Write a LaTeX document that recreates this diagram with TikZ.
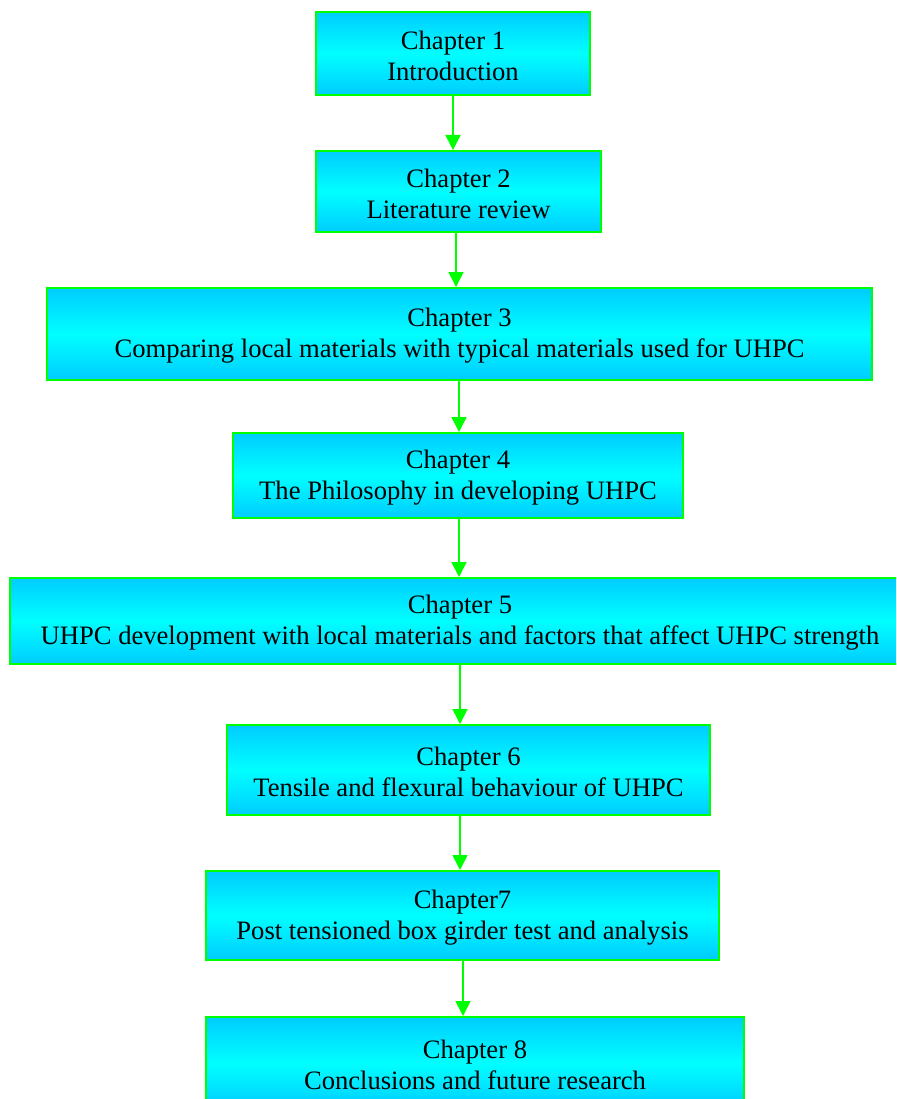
\documentclass[tikz,border=0pt]{standalone}
\usepackage{fontspec}
\setmainfont{Liberation Serif}
\usetikzlibrary{arrows.meta,shadings}
\definecolor{cedge}{RGB}{0,204,255}
\definecolor{cmid}{RGB}{0,255,255}
\definecolor{gline}{RGB}{0,255,0}
\tikzset{
  chap/.style={draw=gline, line width=2pt, top color=cedge, bottom color=cedge, middle color=cmid,
    inner sep=0pt},
  txt/.style={align=center, inner sep=0pt, yshift=-2pt, font=\fontsize{26.6}{31}\selectfont, text=black},
  arr/.style={draw=gline, line width=1.6pt, -{Triangle[width=15pt,length=15pt]}}
}
\begin{document}
\begin{tikzpicture}[x=1pt,y=-1pt]
\useasboundingbox (0,0) rectangle (896,1099);
\clip (0,0) rectangle (896,1099);
\node[chap, minimum width=274pt, minimum height=83pt] (c1) at (453,53.5) {};
\node[chap, minimum width=285pt, minimum height=81pt] (c2) at (458.5,191.5) {};
\node[chap, minimum width=825pt, minimum height=92pt] (c3) at (459.5,334) {};
\node[chap, minimum width=450pt, minimum height=85pt] (c4) at (458,475.5) {};
\node[chap, minimum width=900pt, minimum height=86pt] (c5) at (460,621) {};
\node[chap, minimum width=483pt, minimum height=90pt] (c6) at (468.5,770) {};
\node[chap, minimum width=513pt, minimum height=89pt] (c7) at (462.5,915.5) {};
\node[chap, minimum width=538pt, minimum height=92pt] (c8) at (475,1063) {};
\node[txt] (t1) at (c1.center) {Chapter 1\\Introduction};
\node[txt] (t2) at (c2.center) {Chapter 2\\Literature review};
\node[txt] (t3) at (c3.center) {Chapter 3\\Comparing local materials with typical materials used for UHPC};
\node[txt] (t4) at (c4.center) {Chapter 4\\The Philosophy in developing UHPC};
\node[txt] (t5) at (c5.center) {Chapter 5\\UHPC development with local materials and factors that affect UHPC strength};
\node[txt] (t6) at (c6.center) {Chapter 6\\Tensile and flexural behaviour of UHPC};
\node[txt] (t7) at (c7.center) {Chapter7\\Post tensioned box girder test and analysis};
\node[txt] (t8) at (c8.center) {Chapter 8\\Conclusions and future research};
\coordinate (x1) at (453,0);
\coordinate (x2) at (456,0);
\coordinate (x3) at (459,0);
\coordinate (x4) at (459,0);
\coordinate (x5) at (460,0);
\coordinate (x6) at (460,0);
\coordinate (x7) at (463,0);
\draw[arr] (c1.south -| x1) -- (c2.north -| x1);
\draw[arr] (c2.south -| x2) -- (c3.north -| x2);
\draw[arr] (c3.south -| x3) -- (c4.north -| x3);
\draw[arr] (c4.south -| x4) -- (c5.north -| x4);
\draw[arr] (c5.south -| x5) -- (c6.north -| x5);
\draw[arr] (c6.south -| x6) -- (c7.north -| x6);
\draw[arr] (c7.south -| x7) -- (c8.north -| x7);
\end{tikzpicture}
\end{document}
